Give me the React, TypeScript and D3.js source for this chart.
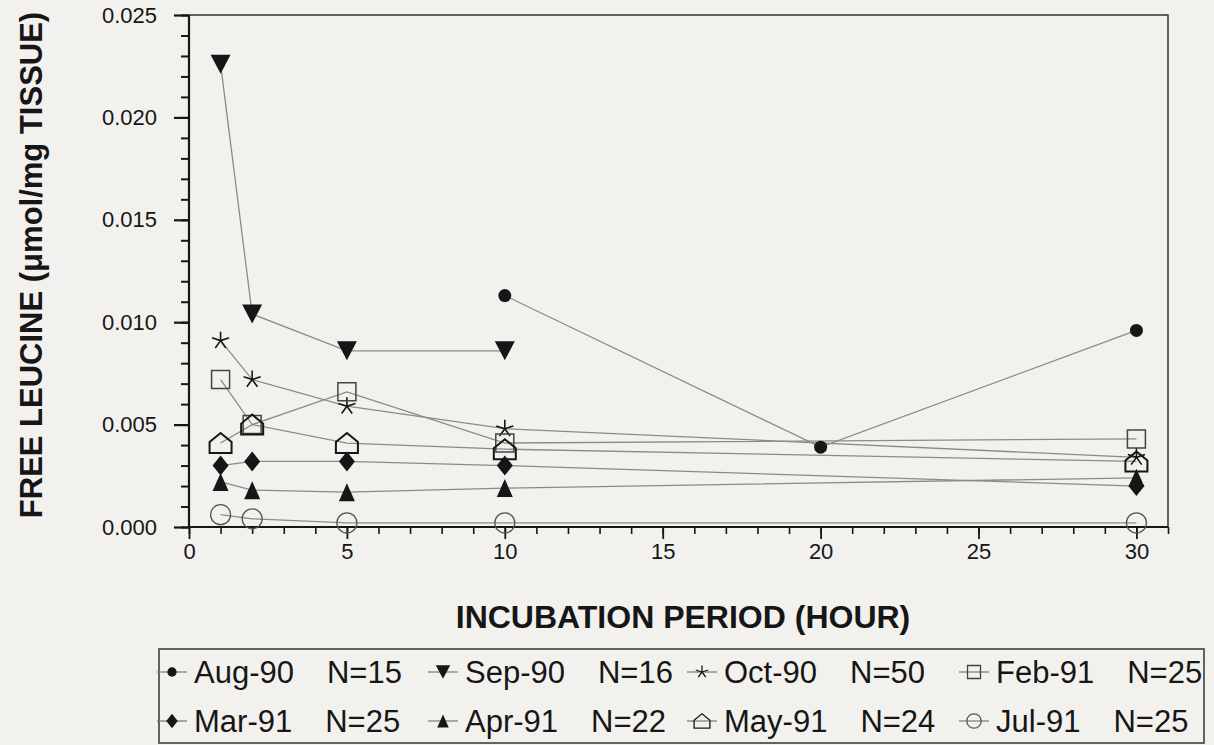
import React, { useEffect, useRef } from "react";
import * as d3 from "d3";

// ---------- data ----------
const hours = [1, 2, 5, 10, 20, 30];
const seriesNames = ["Aug-90", "Sep-90", "Oct-90", "Feb-91", "Mar-91", "Apr-91", "May-91", "Jul-91"];
const seriesN = ["N=15", "N=16", "N=50", "N=25", "N=25", "N=22", "N=24", "N=25"];
const seriesMarkers = ["dot", "triDown", "star", "square", "diamond", "triUp", "house", "circle"];
const aug90 = [null, null, null, 0.0113, 0.0039, 0.0096];
const sep90 = [0.0226, 0.0104, 0.0086, 0.0086, null, null];
const oct90 = [0.0091, 0.0072, 0.0059, 0.0048, null, 0.0034];
const feb91 = [0.0072, 0.0050, 0.0066, 0.0041, null, 0.0043];
const mar91 = [0.0030, 0.0032, 0.0032, 0.0030, null, 0.0020];
const apr91 = [0.0022, 0.0018, 0.0017, 0.0019, null, 0.0024];
const may91 = [0.0041, 0.0050, 0.0041, 0.0038, null, 0.0032];
const jul91 = [0.0006, 0.0004, 0.0002, 0.0002, null, 0.0002];
const seriesValues = [aug90, sep90, oct90, feb91, mar91, apr91, may91, jul91];
const yTickValues = [0, 0.005, 0.01, 0.015, 0.02, 0.025];
const xTickValues = [0, 5, 10, 15, 20, 25, 30];
const xTitle = "INCUBATION PERIOD (HOUR)";
const yTitle = "FREE LEUCINE (\u03bcmol/mg TISSUE)";

// ---------- layout ----------
const W = 1214, H = 745;
const L = 189, R = 1168, T = 15, B = 527;
const BG = "#f3f1ee";
const INK = "#161616";
const FONT = "'Liberation Sans', Arial, Helvetica, sans-serif";

function markerSpec(type: string, k: number) {
  const s = k;
  switch (type) {
    case "dot":
      return { d: d3.symbol(d3.symbolCircle, Math.PI * (6.5 * s) ** 2)()!, fill: INK, stroke: "none", sw: 0 };
    case "triDown": {
      const w = 10 * s, h = 9.5 * s;
      return { d: `M${-w},${-h}L${w},${-h}L0,${h}Z`, fill: INK, stroke: "none", sw: 0 };
    }
    case "triUp": {
      const w = 8 * s, h = 9 * s;
      return { d: `M${-w},${h}L${w},${h}L0,${-h}Z`, fill: INK, stroke: "none", sw: 0 };
    }
    case "diamond": {
      const w = 8 * s, h = 10 * s;
      return { d: `M0,${-h}L${w},0L0,${h}L${-w},0Z`, fill: INK, stroke: "none", sw: 0 };
    }
    case "square": {
      const a = 9 * s;
      return { d: `M${-a},${-a}H${a}V${a}H${-a}Z`, fill: "none", stroke: "#444", sw: 1.5 };
    }
    case "house": {
      const w = 11 * s, h = 10 * s;
      return { d: `M${-w},${h}H${w}V${-1 * s}L0,${-h}L${-w},${-1 * s}Z`, fill: "none", stroke: INK, sw: 2 };
    }
    case "circle":
      return { d: d3.symbol(d3.symbolCircle, Math.PI * (10 * s) ** 2)()!, fill: "none", stroke: "#555", sw: 1.3 };
    case "star": {
      const r = 9 * s;
      let d = "";
      for (let i = 0; i < 5; i++) {
        const a = -Math.PI / 2 + (i * 2 * Math.PI) / 5;
        d += `M0,0L${(r * Math.cos(a)).toFixed(2)},${(r * Math.sin(a)).toFixed(2)}`;
      }
      return { d, fill: "none", stroke: INK, sw: 1.6 };
    }
  }
  return { d: "", fill: "none", stroke: "none", sw: 0 };
}

export default function App() {
  const ref = useRef<SVGSVGElement>(null);
  useEffect(() => {
    const svg = d3.select(ref.current!);
    svg.selectAll("*").remove();
    svg.append("rect").attr("width", W).attr("height", H).attr("fill", BG);

    const x = d3.scaleLinear().domain([0, 31]).range([L, R]);
    const y = d3.scaleLinear().domain([0, 0.025]).range([B, T]);

    // frame (top & right)
    svg.append("path")
      .attr("d", `M${L},${T}H${R}V${B}`)
      .attr("fill", "none").attr("stroke", "#333").attr("stroke-width", 1.5);

    // y axis minor
    const yMinor = d3.range(0, 26).map((i) => i * 0.001);
    const gyMinor = svg.append("g").attr("transform", `translate(${L},0)`)
      .call(d3.axisLeft(y).tickValues(yMinor).tickSize(8).tickFormat(() => ""));
    gyMinor.select(".domain").remove();
    gyMinor.selectAll("line").attr("stroke", INK).attr("stroke-width", 2);

    const gy = svg.append("g").attr("transform", `translate(${L},0)`)
      .call(d3.axisLeft(y).tickValues(yTickValues).tickSize(15).tickPadding(17).tickFormat(d3.format(".3f")) as any);
    gy.select(".domain").attr("d", `M0,${B}V${T}`).attr("stroke", INK).attr("stroke-width", 2.2);
    gy.selectAll("line").attr("stroke", INK).attr("stroke-width", 2.2);
    gy.selectAll("text").attr("font-family", FONT).attr("font-size", 22).attr("fill", INK);

    // x axis
    const xMinor = d3.range(0, 32);
    const gxMinor = svg.append("g").attr("transform", `translate(0,${B})`)
      .call(d3.axisBottom(x).tickValues(xMinor).tickSize(7).tickFormat(() => ""));
    gxMinor.select(".domain").remove();
    gxMinor.selectAll("line").attr("stroke", INK).attr("stroke-width", 1.6);

    const gx = svg.append("g").attr("transform", `translate(0,${B})`)
      .call(d3.axisBottom(x).tickValues(xTickValues).tickSize(12).tickPadding(4).tickFormat(d3.format("d")) as any);
    gx.select(".domain").attr("d", `M${L},0H${R}`).attr("stroke", INK).attr("stroke-width", 2.2);
    gx.selectAll("line").attr("stroke", INK).attr("stroke-width", 1.8);
    gx.selectAll("text").attr("font-family", FONT).attr("font-size", 22).attr("fill", INK);

    // titles
    svg.append("text")
      .attr("x", 683).attr("y", 628)
      .attr("text-anchor", "middle").attr("font-family", FONT)
      .attr("font-weight", "bold").attr("font-size", 32).attr("fill", INK)
      .text(xTitle);
    svg.append("text")
      .attr("transform", `translate(42,${(T + B) / 2 - 6}) rotate(-90)`)
      .attr("text-anchor", "middle").attr("font-family", FONT)
      .attr("font-weight", "bold").attr("font-size", 31).attr("fill", INK)
      .text(yTitle);

    // lines
    const line = d3.line<[number, number | null]>()
      .defined((d) => d[1] !== null)
      .x((d) => x(d[0]))
      .y((d) => y(d[1] as number));
    seriesValues.forEach((vals) => {
      const pts = hours.map((h, i) => [h, vals[i]] as [number, number | null]).filter((d) => d[1] !== null);
      svg.append("path").attr("d", line(pts)!)
        .attr("fill", "none").attr("stroke", "#8a8a8a").attr("stroke-width", 1.3);
    });

    // markers
    seriesValues.forEach((vals, si) => {
      const spec = markerSpec(seriesMarkers[si], 1);
      hours.forEach((h, i) => {
        const v = vals[i];
        if (v === null) return;
        svg.append("path")
          .attr("transform", `translate(${x(h)},${y(v)})`)
          .attr("d", spec.d).attr("fill", spec.fill)
          .attr("stroke", spec.stroke).attr("stroke-width", spec.sw);
      });
    });

    // legend
    const lg = svg.append("g");
    lg.append("rect").attr("x", 159).attr("y", 649).attr("width", 1204 - 159).attr("height", 743 - 649)
      .attr("fill", "none").attr("stroke", "#333").attr("stroke-width", 1.5);
    const colX = [172, 443, 702, 974];
    const rowY = [683, 732];
    seriesNames.forEach((name, i) => {
      const cx = colX[i % 4];
      const by = rowY[Math.floor(i / 4)];
      const my = by - 11;
      lg.append("line").attr("x1", cx - 15).attr("x2", cx + 15).attr("y1", my).attr("y2", my)
        .attr("stroke", "#777").attr("stroke-width", 1.2);
      const spec = markerSpec(seriesMarkers[i], 0.72);
      lg.append("path").attr("transform", `translate(${cx},${my})`)
        .attr("d", spec.d).attr("fill", spec.fill)
        .attr("stroke", spec.stroke).attr("stroke-width", spec.sw === 0 ? 0 : 1.3);
      const t = lg.append("text").attr("x", cx + 22).attr("y", by)
        .attr("font-family", FONT).attr("font-size", 31).attr("fill", INK);
      t.append("tspan").text(name);
      t.append("tspan").attr("dx", 33).text(seriesN[i]);
    });
  }, []);
  return (
    <svg ref={ref} width={W} height={H}
      style={{ position: "absolute", left: 0, top: 0, display: "block" }} />
  );
}
